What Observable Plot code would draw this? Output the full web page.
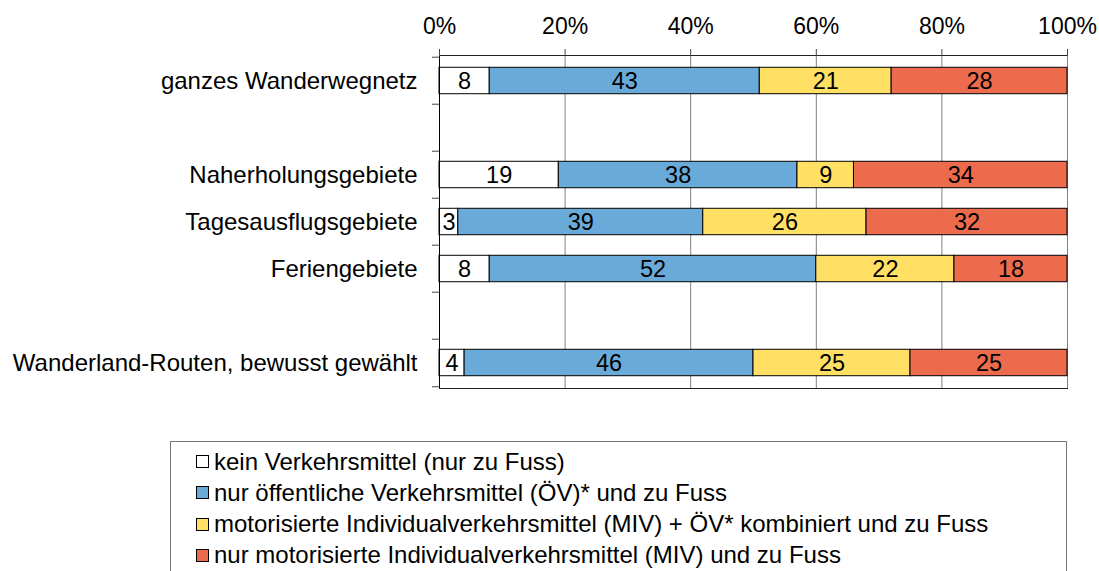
<!DOCTYPE html>
<html>
<head>
<meta charset="utf-8">
<script src="https://cdn.jsdelivr.net/npm/d3@7"></script>
<script src="https://cdn.jsdelivr.net/npm/@observablehq/plot@0.6"></script>
<style>
  html, body { margin: 0; padding: 0; background: #fff; }
  body { width: 1099px; height: 571px; position: relative; overflow: hidden; font-family: "Liberation Sans", Arial, sans-serif; }
  #chart { position: absolute; left: 0; top: 0; }
  #legend { position: absolute; left: 170px; top: 441px; width: 897px; height: 140px; border: 1px solid #777; box-sizing: border-box; }
  .item { position: absolute; left: 25px; height: 31px; display: flex; align-items: center; font-size: 24px; color: #000; white-space: nowrap; }
  .sw { width: 11px; height: 11px; border: 1px solid #000; margin-right: 5px; flex: none; }
</style>
</head>
<body>
<div id="chart"></div>
<div id="legend"></div>
<script>
// Categories (blank slots are spacer rows)
const yDomain = ["ganzes Wanderwegnetz", " ", "Naherholungsgebiete", "Tagesausflugsgebiete", "Feriengebiete", "  ", "Wanderland-Routen, bewusst gewählt"];
const rows = ["ganzes Wanderwegnetz", "Naherholungsgebiete", "Tagesausflugsgebiete", "Feriengebiete", "Wanderland-Routen, bewusst gewählt"];
const types = [
  "kein Verkehrsmittel (nur zu Fuss)",
  "nur öffentliche Verkehrsmittel (ÖV)* und zu Fuss",
  "motorisierte Individualverkehrsmittel (MIV) + ÖV* kombiniert und zu Fuss",
  "nur motorisierte Individualverkehrsmittel (MIV) und zu Fuss"
];
const colors = ["#ffffff", "#69aad8", "#ffe064", "#ec6b4d"];
// Series values (percent)
const keinVM = [8, 19, 3, 8, 4];
const nurOeV = [43, 38, 39, 52, 46];
const kombiniert = [21, 9, 26, 22, 25];
const nurMIV = [28, 34, 32, 18, 25];
const xTicks = [0, 20, 40, 60, 80, 100];

const series = [keinVM, nurOeV, kombiniert, nurMIV];
const data = rows.flatMap((r, i) => series.map((s, j) => ({cat: r, type: types[j], value: s[i]})));

const H = 400, MT = 55, MB = 12;
const bw = (H - MT - MB) / yDomain.length;
const barInset = (bw - 27) / 2;

const chart = Plot.plot({
  width: 1099,
  height: H,
  marginLeft: 439,
  marginRight: 32,
  marginTop: MT,
  marginBottom: MB,
  style: {fontFamily: "'Liberation Sans', Arial, sans-serif", fontSize: "24px", color: "#000", background: "transparent"},
  x: {domain: [0, 100]},
  y: {domain: yDomain, padding: 0},
  color: {domain: types, range: colors},
  marks: [
    Plot.ruleX(xTicks.slice(1), {stroke: "#808080", strokeWidth: 1}),
    Plot.barX(data, Plot.stackX({x: "value", y: "cat", fill: "type", stroke: "#000", strokeWidth: 1, insetTop: barInset, insetBottom: barInset, order: types})),
    Plot.text(data, Plot.stackX({x: "value", y: "cat", z: "type", text: "value", fill: "#000", fontSize: 23.5, order: types})),
    Plot.ruleX([0], {stroke: "#000"}),
    Plot.frame({anchor: "top", stroke: "#222"}),
    Plot.frame({anchor: "bottom", stroke: "#222"}),
    Plot.axisX({anchor: "top", ticks: xTicks, tickSize: 7, tickPadding: 15, tickFormat: d => d + "%", fontSize: 23, label: null, stroke: "#444"}),
    Plot.axisY({tickSize: 0, tickPadding: 22, label: null, tickFormat: d => d.trim(), fontSize: 24}),
    Plot.axisY(yDomain, {tickSize: 7, dy: -bw / 2, tickFormat: () => "", label: null, stroke: "#444"}),
    Plot.axisY([yDomain[yDomain.length - 1]], {tickSize: 7, dy: bw / 2, tickFormat: () => "", label: null, stroke: "#444"})
  ]
});
document.getElementById("chart").appendChild(chart);

const legend = document.getElementById("legend");
types.forEach((t, i) => {
  const el = document.createElement("div");
  el.className = "item";
  el.style.top = (4 + i * 31.3) + "px";
  const sw = document.createElement("span");
  sw.className = "sw";
  sw.style.background = colors[i];
  const tx = document.createElement("span");
  tx.textContent = t;
  el.appendChild(sw);
  el.appendChild(tx);
  legend.appendChild(el);
});
</script>
</body>
</html>
